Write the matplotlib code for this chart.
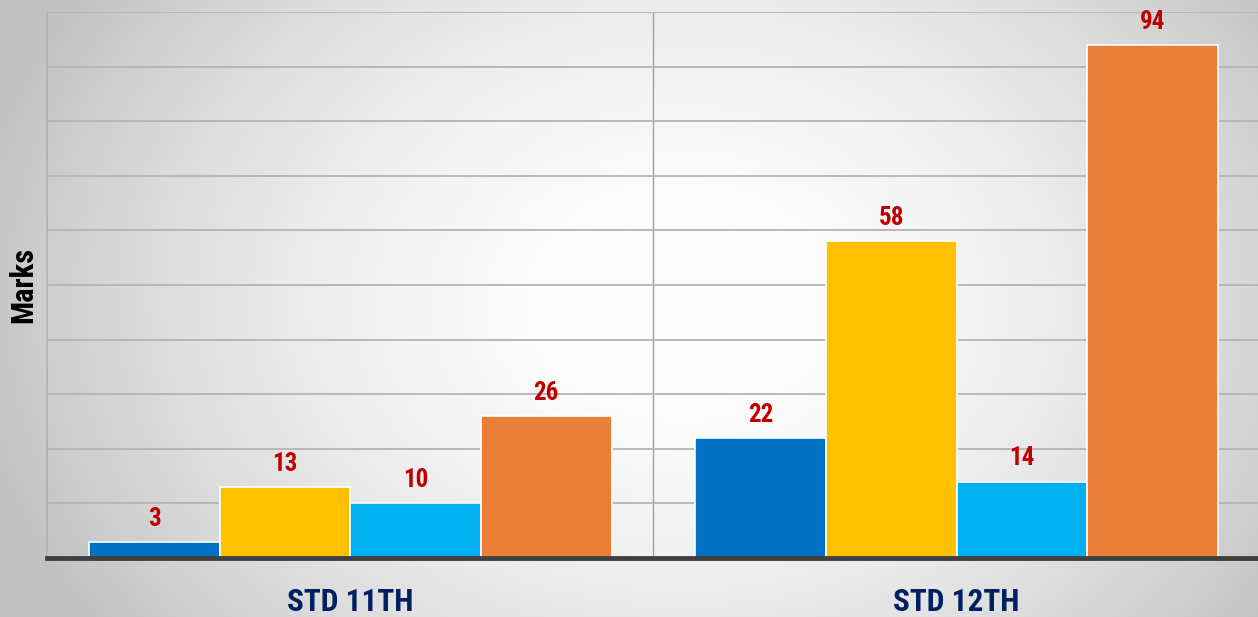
import numpy as np
import matplotlib
matplotlib.use("Agg")
import matplotlib.pyplot as plt

# data
categories = ["STD 11TH", "STD 12TH"]
series_names = ["S1", "S2", "S3", "S4"]
values = [
    [3, 22],
    [13, 58],
    [10, 14],
    [26, 94],
]
colors = ["#0070C0", "#FFC000", "#00B0F0", "#E97E36"]

cond = ["Roboto Condensed", "Liberation Sans Narrow", "DejaVu Sans"]

fig = plt.figure(figsize=(12.58, 6.17), dpi=100)

# background radial gradient
bg = fig.add_axes([0, 0, 1, 1], zorder=-10)
h, w = 617, 1258
yy, xx = np.mgrid[0:h, 0:w]
r = np.sqrt(((xx - 680) / 720.0) ** 2 + ((yy - 300) / 560.0) ** 2)
r = np.clip(r, 0, 1)
g = 1.0 - 0.24 * r ** 1.8
bg.imshow(np.dstack([g, g, g]), aspect="auto", extent=[0, 1, 0, 1], origin="upper")
bg.axis("off")

ax = fig.add_axes([47 / 1258, 59 / 617, 1213 / 1258, 546 / 617])
ax.set_facecolor("none")

x = np.arange(len(categories))
step = 0.2155
for i, (name, vals) in enumerate(zip(series_names, values)):
    pos = x + (i - 1.5) * step
    bars = ax.bar(pos, vals, width=step, color=colors[i], edgecolor="white",
                  linewidth=1.2, zorder=3)
    for b, v in zip(bars, vals):
        ax.annotate(str(v), (b.get_x() + b.get_width() / 2, v),
                    xytext=(0, 8), textcoords="offset points",
                    ha="center", va="bottom", color="#C00000",
                    fontsize=18, fontweight="bold", family=cond,
                    fontstretch="condensed", zorder=4)

ax.set_xlim(-0.5, 1.5)
ax.set_ylim(0, 100)
ax.set_yticks(np.arange(0, 101, 10))
ax.yaxis.grid(True, color="#b4b4b4", linewidth=1.3, zorder=0)
ax.tick_params(axis="y", length=0, labelleft=False)
ax.tick_params(axis="x", length=0, pad=21)
ax.axvline(0.5, color="#a0a0a0", linewidth=1.0, zorder=1)

ax.set_xticks(x)
ax.set_xticklabels(categories, fontsize=22.5, fontweight="bold",
                   color="#002060", family=cond, fontstretch="condensed")

ax.set_ylabel("Marks", fontsize=22, fontweight="bold", color="black",
              family=cond, labelpad=6)

for s in ["top", "right"]:
    ax.spines[s].set_visible(False)
ax.spines["left"].set_color("#b0b0b0")
ax.spines["left"].set_linewidth(1.2)
ax.spines["bottom"].set_color("#404040")
ax.spines["bottom"].set_linewidth(3.5)
ax.spines["bottom"].set_zorder(5)

fig.savefig("out.png", dpi=100)
